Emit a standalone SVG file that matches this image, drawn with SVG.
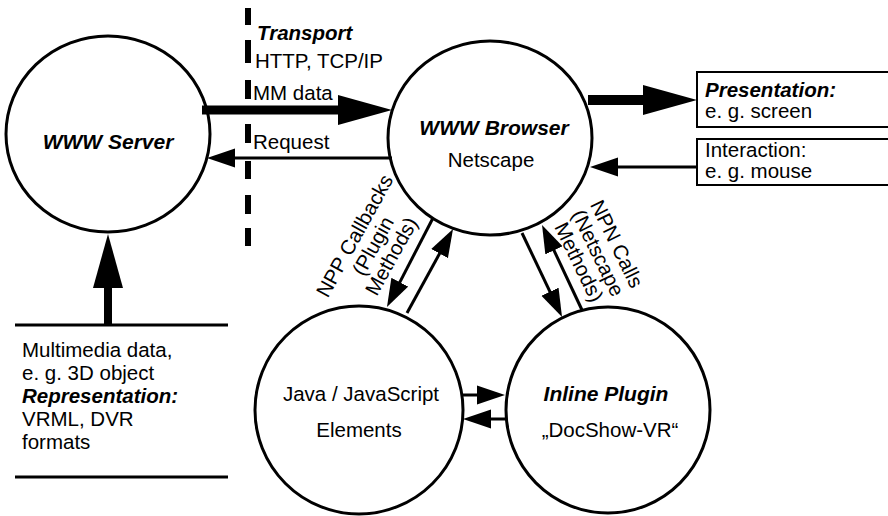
<svg xmlns="http://www.w3.org/2000/svg" width="888" height="516" viewBox="0 0 888 516">
  <style>
    text { font-family: "Liberation Sans", Arial, sans-serif; font-size: 20.5px; fill: #000; }
    .bi { font-weight: bold; font-style: italic; }
    .title { font-size: 21px; }
    .mid { text-anchor: middle; }
    .node { fill: #fff; stroke: #000; stroke-width: 3; }
    .box { fill: #fff; stroke: #000; stroke-width: 2; }
    .thin { fill: none; stroke: #000; stroke-width: 3; marker-end: url(#head); }
    .thick { fill: none; stroke: #000; stroke-width: 9; marker-end: url(#bighead); }
    .rule { fill: none; stroke: #000; stroke-width: 3; }
    .dash { fill: none; stroke: #000; stroke-width: 6; }
  </style>
  <defs>
    <marker id="head" viewBox="0 -10 28 20" refX="14" refY="0" markerWidth="28" markerHeight="20" markerUnits="userSpaceOnUse" orient="auto">
      <path d="M0,-9.5 L28,0 L0,9.5 Z" fill="#000"/>
    </marker>
    <marker id="bighead" viewBox="0 -16 54 32" refX="27" refY="0" markerWidth="54" markerHeight="32" markerUnits="userSpaceOnUse" orient="auto">
      <path d="M0,-15 L54,0 L0,15 Z" fill="#000"/>
    </marker>
  </defs>

  <!-- transport boundary -->
  <path class="dash" d="M248,8V25 M248,40V63 M248,80V99 M248,124V143 M248,161V179 M248,195V214 M248,228V246"/>

  <!-- nodes -->
  <g id="server">
    <ellipse class="node" cx="108" cy="134" rx="102" ry="98"/>
    <text class="bi title mid" x="108" y="149">WWW Server</text>
  </g>
  <g id="browser">
    <ellipse class="node" cx="490" cy="138" rx="102" ry="97"/>
    <text class="bi title mid" x="494" y="135">WWW Browser</text>
    <text class="mid" x="491" y="167">Netscape</text>
  </g>
  <g id="java">
    <ellipse class="node" cx="359" cy="410" rx="104" ry="104"/>
    <text class="mid" x="361" y="401">Java / JavaScript</text>
    <text class="mid" x="359" y="437">Elements</text>
  </g>
  <g id="plugin">
    <ellipse class="node" cx="608" cy="410" rx="102" ry="103"/>
    <text class="bi title mid" x="606" y="401">Inline Plugin</text>
    <text class="mid" x="610" y="437">„DocShow-VR“</text>
  </g>
  <g id="presentation">
    <rect class="box" x="697" y="72" width="200" height="55"/>
    <text class="bi" x="705" y="97">Presentation:</text>
    <text x="705" y="118">e. g. screen</text>
  </g>
  <g id="interaction">
    <rect class="box" x="697" y="139" width="200" height="46"/>
    <text x="705" y="157">Interaction:</text>
    <text x="705" y="178">e. g. mouse</text>
  </g>
  <g id="data">
    <path class="rule" d="M15,325H228 M15,477H228"/>
    <text x="22" y="357">Multimedia data,</text>
    <text x="22" y="380">e. g. 3D object</text>
    <text class="bi" x="22" y="403">Representation:</text>
    <text x="22" y="426">VRML, DVR</text>
    <text x="22" y="449">formats</text>
  </g>

  <!-- connectors -->
  <g id="connectors">
    <path class="thick" d="M202,110H365"/>
    <path class="thin" d="M392,158H221"/>
    <path class="thick" d="M588,100H670" style="stroke-width:10"/>
    <path class="thin" d="M697,167H604"/>
    <path class="thick" d="M108,325V261" style="stroke-width:8"/>
    <path class="thin" d="M462,395H491"/>
    <path class="thin" d="M505,419H477"/>
    <path class="thin" d="M433,218L393.4,294.6"/>
    <path class="thin" d="M407,313L446.3,241.3"/>
    <path class="thin" d="M522,233L556,304.4"/>
    <path class="thin" d="M582,310L548,237.7"/>
  </g>

  <!-- connector labels -->
  <g id="transport-labels">
    <text class="bi" x="257" y="40">Transport</text>
    <text x="255" y="68">HTTP, TCP/IP</text>
    <text x="253" y="100">MM data</text>
    <text x="253" y="149">Request</text>
  </g>
  <g id="npp-label" transform="translate(373,246) rotate(-61)">
    <text class="mid" x="0" y="-14">NPP Callbacks</text>
    <text class="mid" x="0" y="7">(Plugin</text>
    <text class="mid" x="0" y="28">Methods)</text>
  </g>
  <g id="npn-label" transform="translate(598,253) rotate(64)">
    <text class="mid" x="0" y="-14">NPN Calls</text>
    <text class="mid" x="0" y="7">(Netscape</text>
    <text class="mid" x="0" y="28">Methods)</text>
  </g>
</svg>
